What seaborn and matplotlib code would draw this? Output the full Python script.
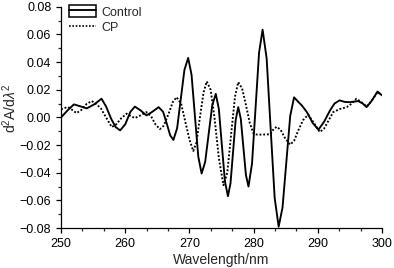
import matplotlib
matplotlib.use("Agg")
import matplotlib.pyplot as plt
import numpy as np
import pandas as pd
import seaborn as sns
from matplotlib.lines import Line2D
from matplotlib.patches import Rectangle
from matplotlib.legend_handler import HandlerTuple
from matplotlib.ticker import AutoMinorLocator, MultipleLocator

# ---------------- data ----------------
control_wl = [250.0, 251.0, 252.0, 253.0, 254.0, 255.2, 256.3, 257.0, 257.8, 258.5,
              259.2, 260.0, 260.8, 261.5, 262.4, 263.3, 264.2, 265.2, 265.9, 266.5,
              267.0, 267.5, 268.08, 268.65, 269.22, 269.8, 270.33, 270.85, 271.38, 271.9,
              272.45, 273.0, 273.55, 274.1, 274.58, 275.05, 275.53, 276.0, 276.4, 276.8,
              277.2, 277.6, 278.0, 278.4, 278.8, 279.2, 279.75, 280.3, 280.85, 281.4,
              282.03, 282.65, 283.28, 283.9, 284.5, 285.1, 285.7, 286.3, 287.0, 287.5,
              288.3, 289.2, 290.1, 291.0, 291.9, 292.6, 293.4, 294.2, 295.0, 296.3,
              297.0, 297.6, 298.4, 299.3, 300.0]
control_val = [0.000, 0.005, 0.0094, 0.008, 0.0065, 0.0095, 0.0135, 0.008, -0.001, -0.007,
               -0.0094, -0.005, 0.004, 0.0078, 0.005, 0.0014, 0.004, 0.0074, 0.004, -0.005,
               -0.013, -0.0163, -0.0079, 0.0132, 0.0343, 0.043, 0.0308, 0.0012, -0.0284, -0.0406,
               -0.0322, -0.0118, 0.0086, 0.017, 0.0062, -0.020, -0.0462, -0.057, -0.0476, -0.0248,
               -0.002, 0.0074, -0.001, -0.0213, -0.0416, -0.050, -0.0334, 0.0067, 0.0469, 0.0634,
               0.0426, -0.0078, -0.0582, -0.079, -0.0653, -0.0322, 0.001, 0.0145, 0.011, 0.0087,
               0.0038, -0.004, -0.0089, -0.003, 0.005, 0.010, 0.0123, 0.0112, 0.011, 0.0118,
               0.010, 0.0074, 0.012, 0.0187, 0.0159]

cp_wl = [250.0, 250.5, 251.1, 251.8, 252.4, 253.2, 254.0, 254.8, 255.5, 256.2,
         257.0, 257.9, 258.6, 259.4, 260.2, 260.9, 261.5, 262.4, 263.3, 264.0,
         264.7, 265.4, 266.0, 266.7, 267.4, 268.0, 268.7, 269.3, 270.0, 270.6,
         271.1, 271.6, 272.2, 272.7, 273.3, 273.9, 274.6, 275.3, 275.9, 276.5,
         277.1, 277.6, 278.2, 278.8, 279.4, 280.0, 280.6, 281.5, 282.6, 283.1,
         283.6, 284.2, 284.9, 285.7, 286.3, 287.0, 287.7, 288.5, 289.4, 290.3,
         291.0, 291.7, 292.4, 293.4, 294.5, 295.3, 296.0, 296.8, 297.6, 298.4,
         299.3, 300.0]
cp_val = [0.0058, 0.0068, 0.0074, 0.0052, 0.0031, 0.0055, 0.0098, 0.0118, 0.0095, 0.0065,
          0.000, -0.007, -0.005, -0.0005, 0.0027, 0.0008, -0.0005, 0.0015, 0.0038, 0.001,
          -0.005, -0.0085, -0.006, 0.002, 0.011, 0.0146, 0.010, -0.002, -0.016, -0.0243,
          -0.018, -0.001, 0.018, 0.026, 0.020, 0.000, -0.030, -0.049, -0.040, -0.012,
          0.015, 0.0255, 0.021, 0.009, -0.004, -0.0118, -0.0125, -0.0124, -0.0122, -0.0085,
          -0.0068, -0.009, -0.015, -0.0197, -0.017, -0.009, -0.002, 0.002, -0.004, -0.0106,
          -0.008, -0.002, 0.0038, 0.006, 0.0074, 0.010, 0.0135, 0.011, 0.0079, 0.012,
          0.0182, 0.016]

df = pd.concat([
    pd.DataFrame({"wl": control_wl, "val": control_val, "sample": "Control"}),
    pd.DataFrame({"wl": cp_wl, "val": cp_val, "sample": "CP"}),
], ignore_index=True)

# ---------------- style ----------------
sns.set_style("ticks")
plt.rcParams["font.family"] = ["Liberation Sans", "DejaVu Sans"]
plt.rcParams["mathtext.fontset"] = "custom"
plt.rcParams["mathtext.rm"] = "Liberation Sans"
plt.rcParams["mathtext.it"] = "Liberation Sans:italic"

fig = plt.figure(figsize=(3.94, 2.68), dpi=100)
ax = fig.add_axes([0.155, 0.149, 0.8145, 0.826])

sns.lineplot(data=df, x="wl", y="val", hue="sample", style="sample",
             palette={"Control": "black", "CP": "black"},
             dashes={"Control": "", "CP": (1, 1)},
             linewidth=1.35, legend=False, ax=ax, sort=False)

ax.set_xlim(250, 300)
ax.set_ylim(-0.08, 0.08)
ax.xaxis.set_major_locator(MultipleLocator(10))
ax.xaxis.set_minor_locator(AutoMinorLocator(3))
ax.yaxis.set_minor_locator(AutoMinorLocator(2))
yt = np.arange(-0.08, 0.081, 0.02)
ax.set_yticks(yt)
ax.set_yticklabels([f"{v:.2f}".replace("-", "\u2212") for v in yt])
ax.tick_params(which="major", direction="out", length=3.5, width=0.9, labelsize=9, colors="black")
ax.tick_params(which="minor", direction="out", length=2, width=0.9)
for s in ["top", "right"]:
    ax.spines[s].set_visible(False)
for s in ["left", "bottom"]:
    ax.spines[s].set_linewidth(0.9)
    ax.spines[s].set_color("black")

ax.set_xlabel("Wavelength/nm", fontsize=10, labelpad=2)
ax.set_ylabel(r"d$^2$A/d$\lambda^2$", fontsize=10)
ax.yaxis.set_label_coords(-0.13, 0.54)

# legend: Control drawn as an open box with a line through it
box = Rectangle((0, 0), 1, 1, facecolor="white", edgecolor="black", linewidth=1.1)
solid = Line2D([], [], color="black", linewidth=1.35)
dotted = Line2D([], [], color="black", linewidth=1.2, linestyle=(0, (1, 1)))
leg = ax.legend([(box, solid), dotted], ["Control", "CP"],
                handler_map={tuple: HandlerTuple(ndivide=1, pad=0)},
                loc="upper left", bbox_to_anchor=(0.0, 1.04), frameon=False,
                fontsize=9, handlelength=2.2, handleheight=1.1, handletextpad=0.4,
                labelspacing=0.2, borderaxespad=0.2)

fig.savefig("out.png", dpi=100)
